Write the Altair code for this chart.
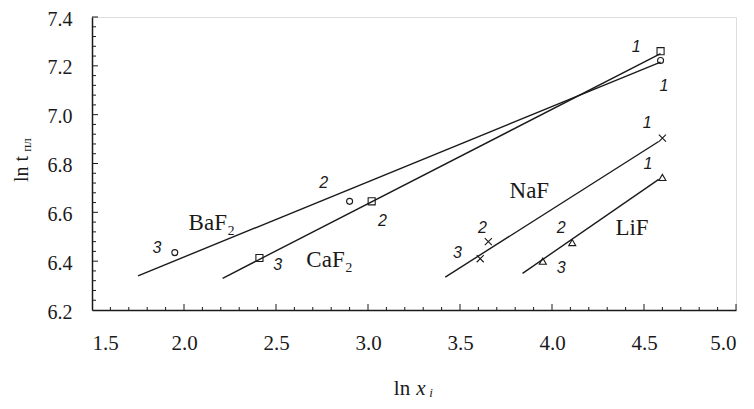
import altair as alt
import pandas as pd
import numpy as np

# ---- data ----
series = ["BaF2", "CaF2", "NaF", "LiF"]
# fitted lines: start / end
line_x0 = [1.75, 2.21, 3.42, 3.84]
line_y0 = [6.34, 6.33, 6.335, 6.35]
line_x1 = [4.59, 4.59, 4.58, 4.58]
line_y1 = [7.215, 7.25, 6.89, 6.735]

# measured points (1, 2, 3) per series
pt_x = {"BaF2": [4.59, 2.90, 1.95], "CaF2": [4.59, 3.02, 2.41],
        "NaF": [4.60, 3.654, 3.61], "LiF": [4.60, 4.11, 3.95]}
pt_y = {"BaF2": [7.222, 6.645, 6.435], "CaF2": [7.26, 6.645, 6.413],
        "NaF": [6.904, 6.48, 6.41], "LiF": [6.743, 6.476, 6.40]}

# point-number labels
num_text = ["1", "1", "1", "1", "2", "2", "2", "2", "3", "3", "3", "3"]
num_x = [4.609, 4.457, 4.517, 4.522, 2.759, 3.079, 3.622, 4.05, 1.853, 2.509, 3.486, 4.05]
num_y = [7.118, 7.278, 6.965, 6.797, 6.719, 6.566, 6.537, 6.537, 6.455, 6.385, 6.435, 6.373]

# compound labels
comp_text = ["BaF\u2082", "CaF\u2082", "NaF", "LiF"]
comp_x = [2.151, 2.791, 3.877, 4.435]
comp_y = [6.558, 6.406, 6.686, 6.537]

x_ticks = [1.5, 2.0, 2.5, 3.0, 3.5, 4.0, 4.5, 5.0]
y_ticks = [6.2, 6.4, 6.6, 6.8, 7.0, 7.2, 7.4]

W, H = 644, 293
SERIF = "Liberation Serif"
INK = "#1a1a1a"

xs = alt.Scale(domain=[1.5, 5.0], nice=False, zero=False)
ys = alt.Scale(domain=[6.2, 7.4], nice=False, zero=False)

# lines
rows = []
for s, a, b, c, d in zip(series, line_x0, line_y0, line_x1, line_y1):
    rows.append({"s": s, "x": a, "y": b})
    rows.append({"s": s, "x": c, "y": d})
lines_df = pd.DataFrame(rows)

base_x = alt.X("x:Q", scale=xs, axis=alt.Axis(
    values=x_ticks, format=".1f", title=None, ticks=False, tickSize=0, grid=False,
    domainColor=INK, domainWidth=1.5, labelFont=SERIF, labelFontSize=21,
    labelColor=INK, labelPadding=22))
base_y = alt.Y("y:Q", scale=ys, axis=alt.Axis(
    values=y_ticks, format=".1f", title=None, ticks=False, tickSize=0, grid=False,
    domainColor=INK, domainWidth=1.5, labelFont=SERIF, labelFontSize=20,
    labelColor=INK, labelPadding=20, labelOffset=2))

lines = alt.Chart(lines_df).mark_line(color=INK, strokeWidth=1.4).encode(
    x=base_x, y=base_y, detail="s:N")

shapes = {"BaF2": ("circle", 0, 36), "CaF2": ("square", 0, 50),
          "NaF": ("M-1,-1L1,1M1,-1L-1,1", 0, 50), "LiF": ("triangle-up", 0, 50)}
point_layers = []
for s in series:
    df = pd.DataFrame({"x": pt_x[s], "y": pt_y[s]})
    shp, ang, sz = shapes[s]
    point_layers.append(alt.Chart(df).mark_point(
        shape=shp, filled=False, color=INK, strokeWidth=1.1, size=sz, opacity=1
    ).encode(x=alt.X("x:Q", scale=xs), y=alt.Y("y:Q", scale=ys)))

nums = alt.Chart(pd.DataFrame({"t": num_text, "x": num_x, "y": num_y})).mark_text(
    font="Liberation Sans", fontStyle="italic", fontSize=16, color=INK,
    align="center", baseline="middle").encode(
    x=alt.X("x:Q", scale=xs), y=alt.Y("y:Q", scale=ys), text="t:N")

comps = alt.Chart(pd.DataFrame({"t": comp_text, "x": comp_x, "y": comp_y})).mark_text(
    font=SERIF, fontSize=23, color=INK, align="center", baseline="middle").encode(
    x=alt.X("x:Q", scale=xs), y=alt.Y("y:Q", scale=ys), text="t:N")

# inside ticks
xminor = [v for v in np.round(np.arange(1.6, 5.01, 0.1), 2) if round(v * 2) != v * 2]
xmajor = x_ticks[1:]
yminor = [v for v in np.round(np.arange(6.24, 7.41, 0.04), 2) if abs(round(v * 5) - v * 5) > 1e-6]
ymajor = y_ticks[1:]

def xtick(vals, ln):
    return alt.Chart(pd.DataFrame({"x": vals})).mark_rule(color=INK, strokeWidth=1).encode(
        x=alt.X("x:Q", scale=xs), y=alt.value(H), y2=alt.value(H - ln))

def ytick(vals, ln):
    return alt.Chart(pd.DataFrame({"y": vals})).mark_rule(color=INK, strokeWidth=1).encode(
        y=alt.Y("y:Q", scale=ys), x=alt.value(0), x2=alt.value(ln))

ticks = [xtick(xminor, 3), xtick(xmajor, 6), ytick(yminor, 4), ytick(ymajor, 6)]

# axis titles
one = pd.DataFrame({"a": [0]})
def label(txt, x, y, size, style="normal", angle=0, align="center"):
    return alt.Chart(one).mark_text(text=txt, font=SERIF, fontSize=size, fontStyle=style,
                                    color=INK, angle=angle, align=align,
                                    baseline="alphabetic").encode(
        x=alt.value(x), y=alt.value(y))

titles = [
    label("ln", 310, 378, 21),
    label("x", 329, 378, 21, "italic"),
    label("i", 339, 380, 13, "italic"),
    label("ln t", -64, 152, 20, angle=270),
    label("пл", -61, 128, 13, angle=270),
]

chart = alt.layer(lines, *point_layers, nums, comps, *ticks, *titles).properties(
    width=W, height=H,
    autosize=alt.AutoSizeParams(type="none"),
    padding={"left": 84, "top": 9, "right": 8, "bottom": 91},
).configure_view(stroke=None).configure(background="white")

chart.save("out.html", embed_options={"renderer": "svg", "actions": False})
